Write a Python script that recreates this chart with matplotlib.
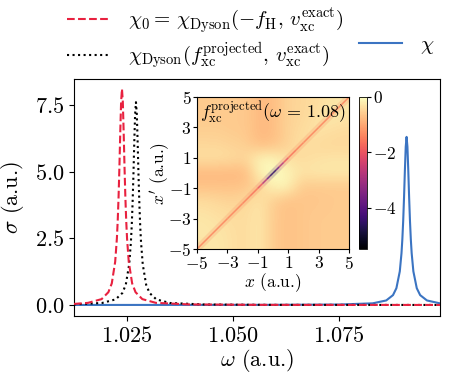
import matplotlib
matplotlib.use('Agg')
import matplotlib.pyplot as plt
import numpy as np
from matplotlib.collections import LineCollection
from matplotlib.ticker import FuncFormatter

plt.rcParams['mathtext.fontset'] = 'cm'
plt.rcParams['font.family'] = 'serif'
plt.rcParams['font.serif'] = ['cmr10', 'DejaVu Serif']
plt.rcParams['axes.formatter.use_mathtext'] = True

# spectra
omega_chi0 = [1.0125, 1.0158, 1.0190, 1.0206, 1.0214, 1.0222, 1.0226, 1.0228, 1.0230, 1.0232,
              1.0234, 1.0236, 1.0238, 1.0240, 1.0242, 1.0244, 1.0246, 1.0248, 1.0250, 1.0254,
              1.0262, 1.0270, 1.0286, 1.0318, 1.0398, 1.0558, 1.0988]
sigma_chi0 = [0.04, 0.08, 0.22, 0.48, 0.81, 1.62, 2.49, 3.16, 4.05, 5.18,
              6.48, 7.62, 8.10, 7.62, 6.48, 5.18, 4.05, 3.16, 2.49, 1.62,
              0.81, 0.48, 0.22, 0.08, 0.02, 0.005, 0.001]

omega_proj = [1.0125, 1.0191, 1.0223, 1.0239, 1.0247, 1.0255, 1.0259, 1.0261, 1.0263, 1.0265,
              1.0267, 1.0269, 1.0271, 1.0273, 1.0275, 1.0277, 1.0279, 1.0281, 1.0283, 1.0287,
              1.0295, 1.0303, 1.0319, 1.0351, 1.0431, 1.0591, 1.0988]
sigma_proj = [0.023, 0.075, 0.21, 0.45, 0.76, 1.52, 2.34, 2.96, 3.80, 4.86,
              6.08, 7.15, 7.60, 7.15, 6.08, 4.86, 3.80, 2.96, 2.34, 1.52,
              0.76, 0.45, 0.21, 0.075, 0.019, 0.005, 0.001]

omega_chi = [1.0125, 1.0589, 1.0749, 1.0829, 1.0861, 1.0877, 1.0885, 1.0893, 1.0897, 1.0899,
             1.0901, 1.0903, 1.0905, 1.0907, 1.0909, 1.0911, 1.0913, 1.0915, 1.0917, 1.0919,
             1.0921, 1.0925, 1.0933, 1.0941, 1.0957, 1.0988]
sigma_chi = [0.001, 0.004, 0.016, 0.062, 0.17, 0.37, 0.63, 1.26, 1.94, 2.46,
             3.15, 4.03, 5.04, 5.93, 6.30, 5.93, 5.04, 4.03, 3.15, 2.46,
             1.94, 1.26, 0.63, 0.37, 0.17, 0.06]

# inset: f_xc(x, x') on a coarse grid, rows x' = 5 .. -5, columns x = -5 .. 5
fxc_grid = [
    [-0.60, -0.60, -0.60, -0.60, -0.80, -0.75, -0.50, -0.45, -0.40, -0.30, -0.25],
    [-0.60, -0.60, -0.60, -0.60, -0.80, -0.75, -0.50, -0.45, -0.35, -0.25, -0.30],
    [-0.55, -0.55, -0.60, -0.60, -0.80, -0.75, -0.50, -0.40, -0.30, -0.35, -0.40],
    [-0.45, -0.45, -0.50, -0.55, -0.75, -0.70, -0.50, -0.35, -0.40, -0.45, -0.45],
    [-0.35, -0.35, -0.40, -0.45, -0.10, -0.10, -0.35, -0.40, -0.35, -0.30, -0.30],
    [-0.80, -0.80, -0.80, -0.80, -0.10, 0.00, -0.10, -0.30, -0.25, -0.25, -0.25],
    [-0.70, -0.70, -0.70, -0.65, -0.50, -0.10, -0.10, -0.60, -0.60, -0.60, -0.60],
    [-0.40, -0.45, -0.50, -0.45, -0.30, -0.55, -0.70, -0.65, -0.65, -0.60, -0.60],
    [-0.30, -0.35, -0.40, -0.40, -0.25, -0.60, -0.70, -0.65, -0.60, -0.60, -0.60],
    [-0.25, -0.30, -0.35, -0.40, -0.25, -0.60, -0.70, -0.65, -0.60, -0.60, -0.60],
    [-0.30, -0.25, -0.35, -0.40, -0.25, -0.60, -0.70, -0.65, -0.60, -0.60, -0.60],
]
# values along the diagonal x = x'
diag_pos = [-5, -4, -3, -2, -1.5, -1, -0.7, -0.4, -0.2, 0, 0.2, 0.4, 0.7, 1, 1.5, 2, 3, 4, 5]
diag_val = [-1.4, -1.4, -1.4, -1.4, -1.5, -1.7, -2.3, -3.2, -4.2, -4.8,
            -4.2, -3.2, -2.3, -1.7, -1.5, -1.4, -1.4, -1.4, -1.4]

c_red = '#e8213f'
c_blue = '#3b74c2'

fig = plt.figure(figsize=(4.57, 3.91), dpi=100)
ax = fig.add_axes([0.162, 0.192, 0.801, 0.606])

l_red, = ax.plot(omega_chi0, sigma_chi0, '--', color=c_red, lw=1.5, zorder=3)
l_blk, = ax.plot(omega_proj, sigma_proj, ':', color='k', lw=1.5, zorder=2)
l_blu, = ax.plot(omega_chi, sigma_chi, '-', color=c_blue, lw=1.5, zorder=1)

ax.set_xlim(1.0125, 1.0988)
ax.set_ylim(-0.41, 8.47)
ax.set_xticks([1.025, 1.05, 1.075])
ax.set_yticks([0, 2.5, 5.0, 7.5])
ax.xaxis.set_major_formatter(FuncFormatter(lambda v, p: r'$%.3f$' % v))
ax.yaxis.set_major_formatter(FuncFormatter(lambda v, p: r'$%.1f$' % v))
ax.tick_params(labelsize=16)
ax.set_xlabel(r'$\omega$ (a.u.)', fontsize=16, labelpad=1)
ax.set_ylabel(r'$\sigma$ (a.u.)', fontsize=16, labelpad=6)

# legend: red, black in column 1, blue in row 2 of column 2
blank, = ax.plot([], [], color='none')
fig.legend([l_red, l_blk, blank, l_blu],
           [r'$\chi_0 =\,\chi_{\mathrm{Dyson}}(-f_{\mathrm{H}},\, v_{\mathrm{xc}}^{\mathrm{exact}})$',
            r'$\chi_{\mathrm{Dyson}}(f_{\mathrm{xc}}^{\mathrm{projected}},\, v_{\mathrm{xc}}^{\mathrm{exact}})$',
            '', r'$\chi$'],
           ncol=2, frameon=False, fontsize=15, loc='upper left',
           bbox_to_anchor=(0.105, 1.032), handlelength=2.1, handletextpad=0.85,
           columnspacing=0.7, labelspacing=0.25)

# inset
axin = fig.add_axes([0.431, 0.363, 0.333, 0.389])
im = axin.imshow(np.array(fxc_grid), extent=[-5, 5, -5, 5], cmap='magma',
                 vmin=-5.5, vmax=0, interpolation='bicubic', aspect='auto')
cmap = plt.get_cmap('magma')
norm = plt.Normalize(-5.5, 0)
segs = [[(diag_pos[i], diag_pos[i]), (diag_pos[i + 1], diag_pos[i + 1])] for i in range(len(diag_pos) - 1)]
seg_vals = [(diag_val[i] + diag_val[i + 1]) / 2 for i in range(len(diag_val) - 1)]
halo = LineCollection(segs, colors=cmap(norm(seg_vals)), linewidths=5, alpha=0.2, capstyle='butt')
core = LineCollection(segs, colors=cmap(norm(seg_vals)), linewidths=1.1, alpha=0.85, capstyle='butt')
axin.add_collection(halo)
axin.add_collection(core)
axin.set_xlim(-5, 5)
axin.set_ylim(-5, 5)
axin.set_xticks([-5, -3, -1, 1, 3, 5])
axin.set_yticks([-5, -3, -1, 1, 3, 5])
axin.xaxis.set_major_formatter(FuncFormatter(lambda v, p: r'$%d$' % v))
axin.yaxis.set_major_formatter(FuncFormatter(lambda v, p: r'$%d$' % v))
axin.tick_params(labelsize=12.5, length=3, pad=1)
axin.set_xlabel(r'$x$ (a.u.)', fontsize=12.5, labelpad=0)
axin.set_ylabel(r"$x'$ (a.u.)", fontsize=12.5, labelpad=-3)
axin.text(0.02, 0.985, r'$f_{\mathrm{xc}}^{\mathrm{projected}}(\omega\,=\,1.08)$',
          transform=axin.transAxes, ha='left', va='top', fontsize=13)

cax = fig.add_axes([0.786, 0.363, 0.0175, 0.389])
cb = fig.colorbar(im, cax=cax, ticks=[0, -2, -4])
cb.ax.yaxis.set_major_formatter(FuncFormatter(lambda v, p: r'$%d$' % v))
cb.ax.tick_params(labelsize=12.5, length=3, pad=1)
cb.outline.set_linewidth(0.6)

plt.savefig('out.png', dpi=100)
